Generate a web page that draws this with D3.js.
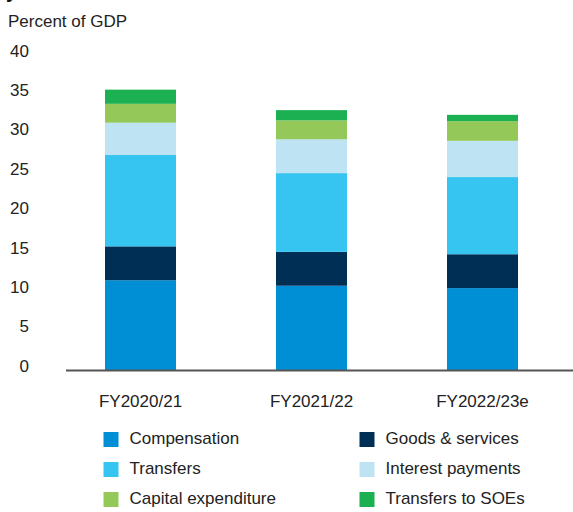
<!DOCTYPE html>
<html>
<head>
<meta charset="utf-8">
<script src="https://cdn.jsdelivr.net/npm/d3@7"></script>
<style>
  html, body { margin: 0; padding: 0; background: #fff; }
  svg { display: block; }
  text { font-family: "Liberation Sans", Arial, sans-serif; fill: #222; }
</style>
</head>
<body>
<svg id="chart" width="573" height="512"></svg>
<script>
// ---- Data ----
const categories = ["FY2020/21", "FY2021/22", "FY2022/23e"];
const compensation = [11.4, 10.7, 10.4];
const goodsServices = [4.3, 4.3, 4.3];
const transfers = [11.6, 10.0, 9.8];
const interestPayments = [4.1, 4.3, 4.6];
const capitalExpenditure = [2.4, 2.4, 2.5];
const transfersToSOEs = [1.8, 1.3, 0.8];
const seriesNames = ["Compensation", "Goods & services", "Transfers", "Interest payments", "Capital expenditure", "Transfers to SOEs"];
const seriesKeys = ["comp", "goods", "transfers", "interest", "capex", "soe"];
const seriesColors = ["#008fd5", "#002f56", "#36c5f0", "#bee3f2", "#94c95a", "#1cb053"];
const yTicks = [0, 5, 10, 15, 20, 25, 30, 35, 40];
const yAxisTitle = "Percent of GDP";

// ---- Build table ----
const table = categories.map((c, i) => ({
  category: c,
  comp: compensation[i],
  goods: goodsServices[i],
  transfers: transfers[i],
  interest: interestPayments[i],
  capex: capitalExpenditure[i],
  soe: transfersToSOEs[i]
}));

const svg = d3.select("#chart");

const y = d3.scaleLinear().domain([0, 40]).range([370, 55]);
const pi = 1 - 71 / 171;
const x = d3.scaleBand().domain(categories).range([55, 568])
  .paddingInner(pi).paddingOuter(pi / 2);
const color = d3.scaleOrdinal().domain(seriesKeys).range(seriesColors);

// cut-off heading descender at very top (as in the reference crop)
svg.append("text").attr("x", 6).attr("y", -2)
  .style("font-size", "20px").style("font-weight", "bold").style("fill", "#111")
  .text("y");

// y title
svg.append("text").attr("x", 8).attr("y", 27)
  .style("font-size", "17px").text(yAxisTitle);

// stacked bars
const stacked = d3.stack().keys(seriesKeys)(table);
svg.append("g").selectAll("g").data(stacked).join("g")
  .attr("fill", d => color(d.key))
  .selectAll("rect").data(d => d).join("rect")
  .attr("x", d => x(d.data.category))
  .attr("width", x.bandwidth())
  .attr("y", d => y(d[1]))
  .attr("height", d => y(d[0]) - y(d[1]));

// baseline
svg.append("line").attr("x1", 66).attr("x2", 573)
  .attr("y1", 370.5).attr("y2", 370.5)
  .attr("stroke", "#555").attr("stroke-width", 2);

// y axis
const yAxis = svg.append("g").attr("transform", "translate(29,0)")
  .call(d3.axisLeft(y).tickValues(yTicks).tickSize(0).tickPadding(0));
yAxis.select(".domain").remove();
yAxis.selectAll("text")
  .style("font-size", "17px").style("fill", "#222")
  .style("font-family", "'Liberation Sans', Arial, sans-serif")
  .attr("dy", null).attr("y", 0)
  .attr("transform", "translate(0,-3.3)")
  .attr("dominant-baseline", "middle");

// x axis labels
const xAxis = svg.append("g").attr("transform", "translate(0,370)")
  .call(d3.axisBottom(x).tickSize(0).tickPadding(0));
xAxis.select(".domain").remove();
xAxis.selectAll("text")
  .style("font-size", "17px").style("fill", "#222")
  .style("font-family", "'Liberation Sans', Arial, sans-serif")
  .attr("dy", null).attr("y", 37);

// legend
const legendItems = seriesKeys.map((k, i) => ({ key: k, name: seriesNames[i], col: i % 2, row: Math.floor(i / 2) }));
const legend = svg.append("g").selectAll("g").data(legendItems).join("g")
  .attr("transform", d => `translate(${d.col === 0 ? 103.5 : 359.5},${432 + d.row * 30})`);
legend.append("rect").attr("width", 15).attr("height", 15)
  .attr("fill", d => color(d.key));
legend.append("text").attr("x", 26).attr("y", 7.5)
  .attr("dominant-baseline", "middle")
  .style("font-size", "17px").text(d => d.name);
</script>
</body>
</html>
